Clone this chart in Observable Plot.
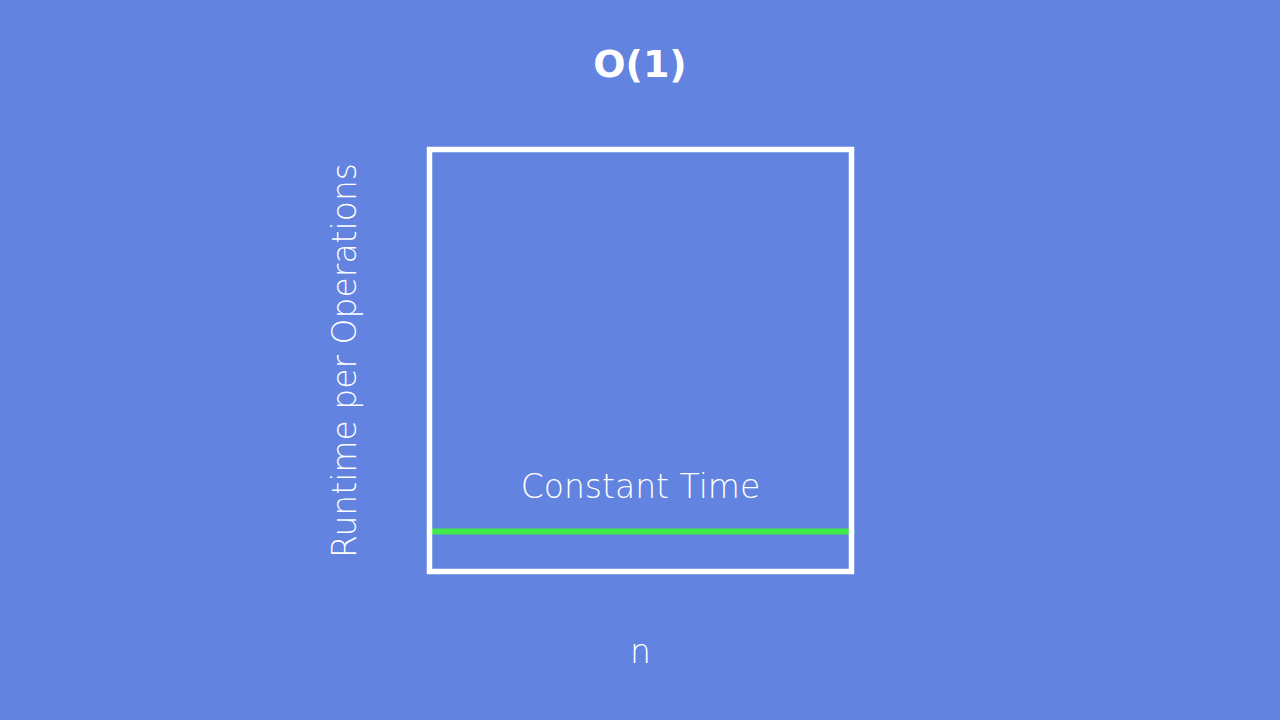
<!DOCTYPE html>
<html>
<head>
<meta charset="utf-8">
<script src="https://cdn.jsdelivr.net/npm/d3@7"></script>
<script src="https://cdn.jsdelivr.net/npm/@observablehq/plot@0.6"></script>
<style>
  html, body { margin: 0; padding: 0; background: #6283e0; overflow: hidden; }
  #title {
    height: 130px; line-height: 128px; text-align: center;
    color: #fff; font-family: "DejaVu Sans", sans-serif; font-weight: 600; font-size: 38px;
  }
  #chart svg { display: block; }
</style>
</head>
<body>
<div id="title">O(1)</div>
<div id="chart"></div>
<script>
// constant time: runtime stays the same whatever n is
const n = [0, 10]
const runtime = [0.95, 0.95]
const label = [{n: 5, runtime: 2, text: "Constant Time"}]

const data = n.map((d, i) => ({n: d, runtime: runtime[i]}))

let chart = Plot.plot({
  width: 1280,
  height: 590,
  marginLeft: 429,
  marginRight: 429,
  marginTop: 19,
  marginBottom: 149,
  x: {domain: [0, 10], label: "n", labelArrow: "none", ticks: [], tickSize: 0, labelAnchor: "center", labelOffset: 91},
  y: {domain: [0, 10], label: "Runtime per Operations", labelArrow: "none", ticks: [], tickSize: 0, labelAnchor: "center", labelOffset: 97},
  marks: [
    Plot.line(data, {x: "n", y: "runtime", stroke: "#41e94a", strokeWidth: 6}),
    Plot.text(label, {x: "n", y: "runtime", text: "text", fill: "#fff", fontSize: 33, fontWeight: 200}),
    Plot.frame({stroke: "#fff", strokeWidth: 5.5})
  ],
  style: {
    background: "#6283e0",
    color: "#fff",
    fontFamily: "DejaVu Sans, sans-serif",
    fontSize: "33px",
    fontWeight: 200
  }
})
d3.select('#chart').append(() => chart)
</script>
</body>
</html>
